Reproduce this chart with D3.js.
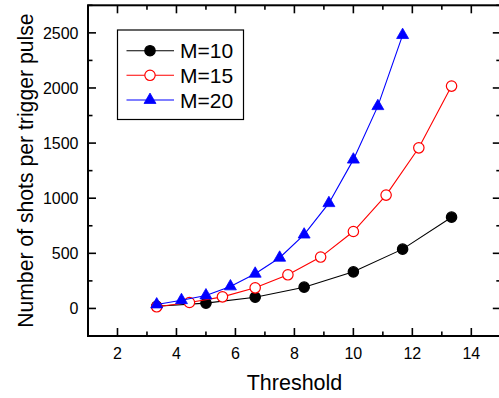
<!DOCTYPE html>
<html><head><meta charset="utf-8">
<script src="https://cdn.jsdelivr.net/npm/d3@7"></script>
<style>body{margin:0;background:#fff}svg{display:block}text{font-family:"Liberation Sans",Arial,sans-serif}</style>
</head><body><svg id="c" width="499" height="398"></svg>
<script>
const m10X = [3.33, 5.0, 6.67, 8.33, 10.0, 11.67, 13.33];
const m10Y = [20, 48, 102, 193, 332, 538, 828];
const m15X = [3.33, 4.44, 5.56, 6.67, 7.78, 8.89, 10.0, 11.11, 12.22, 13.33];
const m15Y = [15, 54, 105, 187, 305, 466, 698, 1028, 1457, 2017];
const m20X = [3.33, 4.17, 5.0, 5.83, 6.67, 7.5, 8.33, 9.17, 10.0, 10.83, 11.67];
const m20Y = [36, 75, 118, 200, 315, 460, 670, 955, 1350, 1835, 2480];
const seriesNames = ["M=10", "M=15", "M=20"];
const xTicks = [2, 4, 6, 8, 10, 12, 14];
const yTicks = [0, 500, 1000, 1500, 2000, 2500];
const xTitle = "Threshold";
const yTitle = "Number of shots per trigger pulse";

const svg = d3.select("#c");
const L = 88, R = 500.8, T = 5.3, B = 336;
const x = d3.scaleLinear().domain([1, 15]).range([L, R]);
const y = d3.scaleLinear().domain([-250, 2750]).range([B, T]);

const series = [
  {name: seriesNames[0], xs: m10X, ys: m10Y, color: "#000", marker: "circle", fill: "#000"},
  {name: seriesNames[1], xs: m15X, ys: m15Y, color: "#ff0000", marker: "circle", fill: "#fff"},
  {name: seriesNames[2], xs: m20X, ys: m20Y, color: "#0000ff", marker: "triangle", fill: "#0000ff"}
];

const line = d3.line().x(d => x(d[0])).y(d => y(d[1]));
const tri = d3.symbol().type(d3.symbolTriangle).size(62);

function drawMarker(g, s, cx, cy) {
  if (s.marker === "circle") {
    g.append("circle").attr("cx", cx).attr("cy", cy).attr("r", 5.2)
      .attr("fill", s.fill).attr("stroke", s.color).attr("stroke-width", 1.2);
  } else {
    g.append("path").attr("d", tri()).attr("transform", `translate(${cx},${cy})`)
      .attr("fill", s.fill).attr("stroke", s.color).attr("stroke-width", 0.8);
  }
}

const plot = svg.append("g");
series.forEach(s => {
  const pts = s.xs.map((v, i) => [v, s.ys[i]]);
  plot.append("path").attr("d", line(pts)).attr("fill", "none").attr("stroke", s.color).attr("stroke-width", 1.1);
  const mg = plot.append("g");
  pts.forEach(p => drawMarker(mg, s, x(p[0]), y(p[1])));
});

// Axes with inward ticks
const ax = svg.append("g");
const xMinor = d3.range(1, 16, 1).filter(v => v % 2 !== 0);
const yMinor = d3.range(-250, 2751, 250).filter(v => v % 500 !== 0);
const tickStyle = sel => sel.attr("stroke", "#000").attr("stroke-width", 1.6);

xTicks.forEach(v => {
  tickStyle(ax.append("line").attr("x1", x(v)).attr("x2", x(v)).attr("y1", B).attr("y2", B - 8));
  tickStyle(ax.append("line").attr("x1", x(v)).attr("x2", x(v)).attr("y1", T).attr("y2", T + 8));
  ax.append("text").attr("x", x(v)).attr("y", 358.5).attr("text-anchor", "middle").attr("font-size", 16).text(v);
});
xMinor.forEach(v => {
  tickStyle(ax.append("line").attr("x1", x(v)).attr("x2", x(v)).attr("y1", B).attr("y2", B - 4.5));
  tickStyle(ax.append("line").attr("x1", x(v)).attr("x2", x(v)).attr("y1", T).attr("y2", T + 4.5));
});
yTicks.forEach(v => {
  tickStyle(ax.append("line").attr("x1", L).attr("x2", L + 8).attr("y1", y(v)).attr("y2", y(v)));
  tickStyle(ax.append("line").attr("x1", R).attr("x2", R - 8).attr("y1", y(v)).attr("y2", y(v)));
  ax.append("text").attr("x", 78.5).attr("y", y(v)).attr("dy", "0.36em").attr("text-anchor", "end").attr("font-size", 16).text(v);
});
yMinor.forEach(v => {
  tickStyle(ax.append("line").attr("x1", L).attr("x2", L + 4.5).attr("y1", y(v)).attr("y2", y(v)));
  tickStyle(ax.append("line").attr("x1", R).attr("x2", R - 4.5).attr("y1", y(v)).attr("y2", y(v)));
});
ax.append("rect").attr("x", L).attr("y", T).attr("width", R - L).attr("height", B - T)
  .attr("fill", "none").attr("stroke", "#000").attr("stroke-width", 2);

// Titles
svg.append("text").attr("x", 294.5).attr("y", 390).attr("text-anchor", "middle").attr("font-size", 21.5).text(xTitle);
svg.append("text").attr("transform", `translate(32.5,${(T + B) / 2}) rotate(-90)`).attr("text-anchor", "middle").attr("font-size", 21.2).text(yTitle);

// Legend
const lg = svg.append("g");
lg.append("rect").attr("x", 117.5).attr("y", 30).attr("width", 126).attr("height", 89.5)
  .attr("fill", "#fff").attr("stroke", "#000").attr("stroke-width", 1.2);
const rowsY = [50.7, 75.3, 100];
series.forEach((s, i) => {
  lg.append("line").attr("x1", 126.5).attr("x2", 174).attr("y1", rowsY[i]).attr("y2", rowsY[i]).attr("stroke", s.color).attr("stroke-width", 1.1);
  drawMarker(lg, s, 150, rowsY[i]);
  lg.append("text").attr("x", 180).attr("y", rowsY[i]).attr("dy", "0.36em").attr("font-size", 21).text(s.name);
});
</script></body></html>
